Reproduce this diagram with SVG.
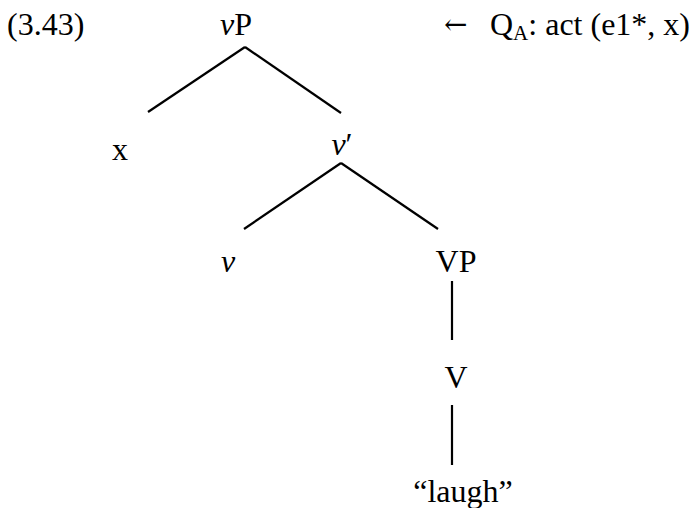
<svg xmlns="http://www.w3.org/2000/svg" width="696" height="508" viewBox="0 0 696 508">
<style>
text{font-family:"Liberation Serif","Times New Roman",serif;font-size:32px;fill:#000}
.m{text-anchor:middle}
.i{font-style:italic}
.e{stroke:#000;stroke-width:2.2;fill:none;stroke-linecap:butt}
.arr{font-family:"DejaVu Serif","Liberation Serif",serif;font-size:28px}
</style>
<rect width="696" height="508" fill="#fff"/>
<text id="label" x="7" y="35">(3.43)</text>
<g id="annotation">
<text class="arr" x="444" y="34">←</text>
<text x="490" y="35">Q<tspan font-size="21" dy="5">A</tspan><tspan dy="-5">: act (e1*, x)</tspan></text>
</g>
<g id="connectors">
<line class="e" x1="245" y1="47" x2="148" y2="112"/>
<line class="e" x1="245" y1="47" x2="341" y2="113"/>
<line class="e" x1="341" y1="163" x2="244" y2="229"/>
<line class="e" x1="341" y1="163" x2="438" y2="229"/>
<line class="e" x1="452" y1="281" x2="452" y2="340"/>
<line class="e" x1="452" y1="405" x2="452" y2="465"/>
</g>
<g id="vP"><text class="m" x="236" y="35"><tspan class="i">v</tspan>P</text></g>
<g id="x"><text class="m" x="120" y="160">x</text></g>
<g id="vbar"><text class="m" x="342" y="155"><tspan class="i">v</tspan>′</text></g>
<g id="v"><text class="m i" x="228" y="272">v</text></g>
<g id="VP"><text class="m" x="456" y="272">VP</text></g>
<g id="V"><text class="m" x="456" y="388">V</text></g>
<g id="laugh"><text class="m" x="463" y="502">“laugh”</text></g>
</svg>
